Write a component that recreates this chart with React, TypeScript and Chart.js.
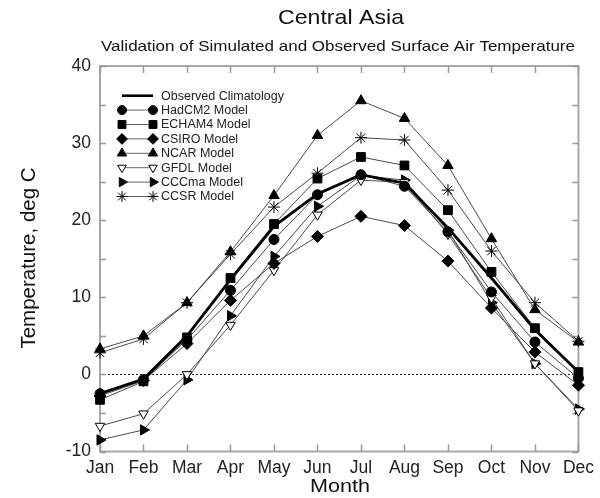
import React, { useEffect, useRef } from 'react';
import { Chart, registerables } from 'chart.js';
import { drawPoint } from 'chart.js/helpers';

Chart.register(...registerables);

const months = ['Jan', 'Feb', 'Mar', 'Apr', 'May', 'Jun', 'Jul', 'Aug', 'Sep', 'Oct', 'Nov', 'Dec'];
const yTickValues = [-10, -5, 0, 5, 10, 15, 20, 25, 30, 35, 40];

const observed = [-2.5, -0.6, 5.0, 12.3, 19.2, 23.4, 25.9, 24.8, 19.0, 12.5, 5.8, 0.3];
const hadcm2 = [-2.5, -0.7, 4.5, 10.9, 17.5, 23.3, 25.9, 24.4, 18.5, 10.7, 4.2, -0.5];
const echam4 = [-3.3, -0.9, 4.8, 12.5, 19.5, 25.4, 28.2, 27.1, 21.3, 13.3, 6.0, 0.3];
const csiro = [-2.8, -0.8, 4.0, 9.6, 14.4, 17.9, 20.5, 19.3, 14.7, 8.6, 2.9, -1.4];
const ncar = [3.3, 5.0, 9.3, 15.9, 23.2, 31.0, 35.5, 33.2, 27.1, 17.6, 8.4, 4.2];
const gfdl = [-6.7, -5.1, 0.0, 6.4, 13.5, 20.7, 25.2, 24.9, 18.2, 9.9, 1.4, -4.7];
const cccma = [-8.5, -7.2, -0.7, 7.6, 15.3, 21.8, 25.8, 25.2, 18.7, 9.3, 1.4, -4.5];
const ccsr = [2.8, 4.6, 9.3, 15.6, 21.7, 26.1, 30.7, 30.4, 23.9, 16.0, 9.3, 4.3];

const FONT = '"Liberation Sans", Arial, Helvetica, sans-serif';

type Series = {
  label: string;
  data: number[];
  style: string | false;
  radius: number;
  rotation: number;
  fill: string;
};

const seriesList: Series[] = [
  { label: 'Observed Climatology', data: observed, style: false, radius: 0, rotation: 0, fill: '#000' },
  { label: 'HadCM2 Model', data: hadcm2, style: 'circle', radius: 5, rotation: 0, fill: '#000' },
  { label: 'ECHAM4 Model', data: echam4, style: 'rect', radius: 6.2, rotation: 0, fill: '#000' },
  { label: 'CSIRO Model', data: csiro, style: 'rectRot', radius: 6, rotation: 0, fill: '#000' },
  { label: 'NCAR Model', data: ncar, style: 'triangle', radius: 6, rotation: 0, fill: '#000' },
  { label: 'GFDL Model', data: gfdl, style: 'triangle', radius: 5.5, rotation: 180, fill: '#fff' },
  { label: 'CCCma Model', data: cccma, style: 'triangle', radius: 6, rotation: 90, fill: '#000' },
  { label: 'CCSR Model', data: ccsr, style: 'star', radius: 6, rotation: 0, fill: '#000' },
];

function fitText(ctx: CanvasRenderingContext2D, text: string, cx: number, cy: number, size: number, width: number) {
  ctx.font = `${size}px ${FONT}`;
  const w = ctx.measureText(text).width;
  const sx = width / w;
  ctx.save();
  ctx.translate(cx, cy);
  ctx.scale(sx, 1);
  ctx.textAlign = 'center';
  ctx.textBaseline = 'middle';
  ctx.fillText(text, 0, 0);
  ctx.restore();
}

export default function App() {
  const ref = useRef<HTMLCanvasElement>(null);

  useEffect(() => {
    document.body.style.margin = '0';
    const canvas = ref.current;
    if (!canvas) return;

    const datasets = seriesList.map((s, i) => ({
      label: s.label,
      data: s.data,
      borderColor: i === 0 ? '#000' : '#4a4a4a',
      borderWidth: i === 0 ? 2.8 : 1,
      pointStyle: s.style === false ? 'circle' : s.style,
      pointRadius: s.radius,
      pointRotation: s.rotation,
      pointBackgroundColor: s.fill,
      pointBorderColor: '#000',
      pointBorderWidth: 1,
      tension: 0,
      clip: false as any,
      order: i === 0 ? -1 : i,
    }));

    const decoPlugin = {
      id: 'deco',
      beforeDatasetsDraw(chart: any) {
        const { ctx, chartArea: a, scales } = chart;
        const ys = scales.y;
        const xs = scales.x;
        ctx.save();
        ctx.strokeStyle = '#222';
        ctx.lineWidth = 1;
        ctx.setLineDash([2, 2]);
        const y0 = Math.round(ys.getPixelForValue(0)) + 0.5;
        ctx.beginPath();
        ctx.moveTo(a.left, y0);
        ctx.lineTo(a.right, y0);
        ctx.stroke();
        ctx.setLineDash([]);
        ctx.strokeStyle = '#a8a8a8';
        ctx.lineWidth = 2;
        ctx.strokeRect(a.left, a.top, a.right - a.left, a.bottom - a.top);
        ctx.lineWidth = 1.5;
        ctx.strokeStyle = '#999';
        ctx.beginPath();
        yTickValues.forEach((v) => {
          const py = Math.round(ys.getPixelForValue(v)) + 0.5;
          ctx.moveTo(a.left, py);
          ctx.lineTo(a.left + 6, py);
          ctx.moveTo(a.right, py);
          ctx.lineTo(a.right - 6, py);
        });
        months.forEach((_, i) => {
          const px = Math.round(xs.getPixelForValue(i)) + 0.5;
          ctx.moveTo(px, a.bottom);
          ctx.lineTo(px, a.bottom - 7);
          ctx.moveTo(px, a.top);
          ctx.lineTo(px, a.top + 7);
        });
        ctx.stroke();
        ctx.restore();
      },
      afterDraw(chart: any) {
        const { ctx } = chart;
        ctx.save();
        ctx.fillStyle = '#111';
        fitText(ctx, 'Central Asia', 341, 18, 21, 126);
        fitText(ctx, 'Validation of Simulated and Observed Surface Air Temperature', 338, 47, 14.5, 474);
        fitText(ctx, 'Month', 340, 487, 19, 60);
        ctx.save();
        ctx.translate(29, 258);
        ctx.rotate(-Math.PI / 2);
        ctx.font = `20.5px ${FONT}`;
        ctx.textAlign = 'center';
        ctx.textBaseline = 'middle';
        ctx.fillText('Temperature, deg C', 0, 0);
        ctx.restore();

        // legend
        const x1 = 122;
        const x2 = 153;
        const top = 95.7;
        const step = 14.4;
        ctx.textAlign = 'left';
        ctx.textBaseline = 'middle';
        ctx.font = `12.5px ${FONT}`;
        seriesList.forEach((s, i) => {
          const y = top + i * step;
          ctx.strokeStyle = i === 0 ? '#000' : '#666';
          ctx.lineWidth = i === 0 ? 2.6 : 1;
          ctx.beginPath();
          ctx.moveTo(x1, y);
          ctx.lineTo(x2, y);
          ctx.stroke();
          if (s.style !== false) {
            ctx.fillStyle = s.fill;
            ctx.strokeStyle = '#000';
            ctx.lineWidth = 1;
            const opts = { pointStyle: s.style, radius: s.radius * 0.9, rotation: s.rotation, borderWidth: 1 };
            drawPoint(ctx, opts as any, x1, y);
            drawPoint(ctx, opts as any, x2, y);
          }
          ctx.fillStyle = '#222';
          ctx.fillText(s.label, 161, y + 0.5);
        });
        ctx.restore();
      },
    };

    const chart = new Chart(canvas, {
      type: 'line',
      data: { labels: months, datasets: datasets as any },
      options: {
        responsive: false,
        animation: false,
        devicePixelRatio: 1,
        layout: { padding: { top: 66, right: 20, left: 0, bottom: 0 } },
        plugins: {
          legend: { display: false },
          title: { display: false },
          tooltip: { enabled: false },
        },
        scales: {
          x: {
            type: 'category',
            offset: false,
            grid: { display: false, drawTicks: false },
            border: { display: false },
            ticks: {
              autoSkip: false,
              maxRotation: 0,
              padding: 6,
              color: '#222',
              font: { family: FONT, size: 17.5 },
            },
            afterFit: (s: any) => {
              s.height = 46.5;
            },
          },
          y: {
            min: -10,
            max: 40,
            grid: { display: false, drawTicks: false },
            border: { display: false },
            ticks: {
              stepSize: 10,
              padding: 9,
              color: '#222',
              font: { family: FONT, size: 17.5 },
            },
            afterFit: (s: any) => {
              s.width = 100;
            },
          },
        },
      },
      plugins: [decoPlugin],
    });

    return () => chart.destroy();
  }, []);

  return (
    <div style={{ position: 'absolute', left: 0, top: 0, width: 600, height: 498 }}>
      <canvas ref={ref} width={600} height={498} style={{ width: 600, height: 498 }} />
    </div>
  );
}
